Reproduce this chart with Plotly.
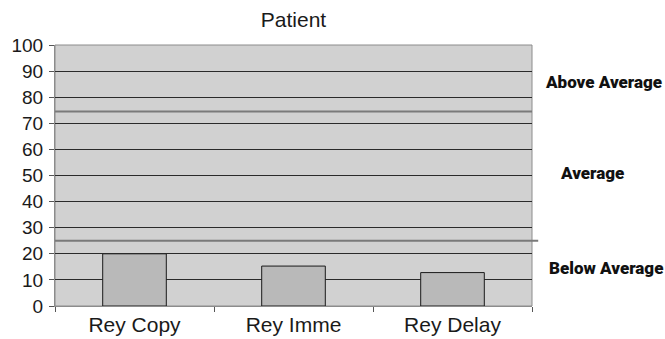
import plotly.graph_objects as go

# Test names and patient scores
tests = ["Rey Copy", "Rey Imme", "Rey Delay"]
scores = [20, 15.3, 12.8]

# Score bands: cutoffs and the label drawn beside each band
band_cutoffs = [25, 74.5]
band_labels = ["Below Average", "Average", "Above Average"]
band_label_y = [14.5, 51, 86]
band_label_x = [1.155, 1.125, 1.150]

y_ticks = list(range(0, 101, 10))

fig = go.Figure()
fig.add_trace(go.Bar(
    x=tests,
    y=scores,
    width=0.4,
    marker=dict(color="#b9b9b9", line=dict(color="#1a1a1a", width=1)),
    showlegend=False,
))

# Horizontal band separators
fig.add_shape(type="line", xref="paper", yref="y",
              x0=0, x1=1.013, y0=band_cutoffs[0], y1=band_cutoffs[0],
              line=dict(color="#7a7a7a", width=2), layer="above")
fig.add_shape(type="line", xref="paper", yref="y",
              x0=0, x1=1.0, y0=band_cutoffs[1], y1=band_cutoffs[1],
              line=dict(color="#7a7a7a", width=2), layer="above")

# Plot frame (top and right)
fig.add_shape(type="rect", xref="paper", yref="paper", x0=0, x1=1, y0=0, y1=1,
              line=dict(color="#8c8c8c", width=1), layer="below")

for lbl, yy, xx in zip(band_labels, band_label_y, band_label_x):
    fig.add_annotation(
        text=lbl, xref="paper", yref="y", x=xx, y=yy,
        showarrow=False, xanchor="center", yanchor="middle",
        font=dict(family="Roboto, Liberation Sans, sans-serif",
                  size=17, weight=900, color="#111111"),
    )

fig.update_layout(
    width=665, height=339,
    margin=dict(l=55, r=133, t=45, b=33),
    paper_bgcolor="white",
    plot_bgcolor="#d1d1d1",
    font=dict(family="Liberation Sans, Arial, sans-serif", color="#1a1a1a"),
    title=dict(text="Patient", x=(55 + 532) / 2 / 665, xanchor="center",
               y=1 - 20 / 339, yanchor="middle", yref="container",
               font=dict(size=21, color="#1a1a1a")),
    bargap=0.6,
)

fig.update_xaxes(
    type="category",
    automargin=False,
    showgrid=False,
    showline=True, linecolor="#8c8c8c", linewidth=1,
    ticks="outside", tickson="boundaries", ticklen=5, tickcolor="#555555",
    ticklabelstandoff=0,
    tickfont=dict(size=21, color="#1a1a1a"),
)
fig.update_yaxes(
    range=[0, 100],
    automargin=False,
    tickvals=y_ticks,
    showgrid=True, gridcolor="#2a2a2a", gridwidth=1,
    zeroline=False,
    showline=True, linecolor="#8c8c8c", linewidth=1,
    ticks="outside", ticklen=5, tickcolor="#555555",
    ticklabelstandoff=2,
    tickfont=dict(size=19, color="#1a1a1a"),
)

fig.write_html("out.html")
